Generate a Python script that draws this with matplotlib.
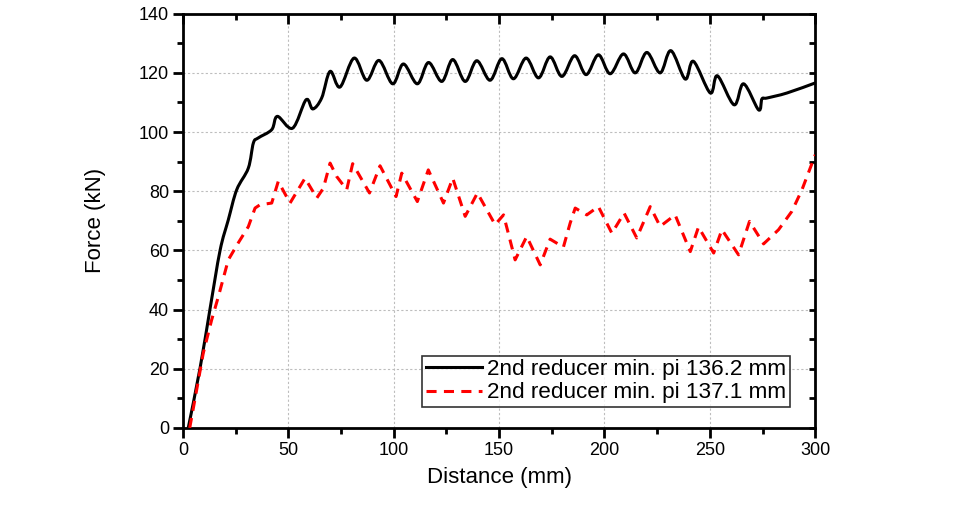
import matplotlib.pyplot as plt
import matplotlib.lines as mlines
from matplotlib.path import Path
from matplotlib.patches import PathPatch
import numpy as np

plt.rcParams['font.family'] = ['Liberation Sans', 'DejaVu Sans']

# 2nd reducer min. pi 136.2 mm (black, solid)
dist_a = [2.5, 8.1, 12.8, 17.6, 21.5, 25.5, 31.0, 33.4, 35.7, 42.1, 44.8, 52.0,
          58.4, 61.6, 65.8, 69.8, 74.5, 81.2, 87.2, 93.0, 99.5, 104.6, 111.2,
          116.5, 122.8, 128.0, 133.9, 139.4, 145.7, 151.3, 156.8, 162.8, 168.7,
          174.2, 179.8, 185.8, 191.3, 197.1, 202.7, 209.0, 214.6, 220.1, 226.4,
          231.5, 238.3, 242.2, 250.2, 253.6, 261.5, 266.0, 273.1, 274.7, 277.1,
          286.6, 300.0]
force_a = [0, 20.2, 40.1, 60.0, 70.3, 80.5, 87.8, 96.3, 98.0, 100.8, 105.3, 101.3,
           110.9, 107.8, 111.5, 120.5, 115.2, 125.0, 117.5, 124.2, 116.3, 123.0,
           116.3, 123.5, 117.1, 124.5, 117.1, 124.1, 117.5, 124.8, 118.0, 125.0,
           118.3, 125.4, 118.8, 125.8, 119.4, 126.1, 119.7, 126.4, 120.0, 126.9,
           120.0, 127.5, 117.9, 123.9, 113.2, 119.0, 109.2, 116.3, 107.5, 111.2,
           111.5, 113.2, 116.6]

# 2nd reducer min. pi 137.1 mm (red, dashed)
dist_b = [3.2, 6.5, 9.6, 13.6, 16.8, 21.5, 26.2, 31.0, 34.2, 36.5, 42.1, 45.2,
          50.8, 57.9, 63.5, 66.6, 69.8, 72.9, 77.7, 80.5, 88.5, 93.5, 101.1,
          103.8, 111.2, 116.4, 123.6, 128.0, 133.9, 139.7, 148.1, 152.1, 157.6,
          163.1, 169.5, 174.2, 180.5, 183.7, 186.1, 191.6, 197.1, 203.5, 209.3,
          215.3, 221.7, 226.4, 233.5, 240.7, 244.6, 251.8, 255.7, 263.6, 268.8,
          275.5, 282.6, 288.9, 293.7, 300.0]
force_b = [0, 12.9, 25.2, 36.5, 44.4, 56.8, 62.5, 68.0, 74.3, 75.4, 76.0, 83.3,
           76.0, 84.4, 77.7, 81.0, 89.5, 85.0, 80.5, 89.3, 79.4, 88.6, 78.2,
           86.1, 76.5, 87.2, 76.0, 84.4, 71.5, 79.4, 68.7, 72.0, 56.8, 64.7,
           55.1, 63.8, 61.1, 69.2, 74.3, 72.0, 74.8, 65.8, 72.6, 64.2, 74.8,
           68.1, 72.0, 59.6, 67.9, 59.1, 67.0, 58.5, 69.8, 62.2, 67.0, 73.2,
           80.5, 92.3]

labels = ['2nd reducer min. pi 136.2 mm', '2nd reducer min. pi 137.1 mm']


def smooth_path(xs, ys):
    # connect the points with a Catmull-Rom style bezier (like a spline connect)
    p = np.column_stack([xs, ys]).astype(float)
    verts = [p[0]]
    codes = [Path.MOVETO]
    n = len(p)
    for i in range(n - 1):
        p0 = p[max(i - 1, 0)]
        p1 = p[i]
        p2 = p[i + 1]
        p3 = p[min(i + 2, n - 1)]
        verts += [p1 + (p2 - p0) / 6, p2 - (p3 - p1) / 6, p2]
        codes += [Path.CURVE4] * 3
    return Path(verts, codes)


fig = plt.figure(figsize=(9.58, 5.07), dpi=100)
ax = fig.add_axes([0.191, 0.156, 0.660, 0.817])

ax.add_patch(PathPatch(smooth_path(dist_a, force_a), fill=False,
                       edgecolor='black', lw=2.2, joinstyle='round',
                       capstyle='butt', zorder=3))
ax.plot(dist_b, force_b, color='#ff0000', lw=2.2, linestyle=(0, (3.3, 2.4)),
        dash_capstyle='butt', zorder=3)

ax.set_xlim(0, 300)
ax.set_ylim(0, 140)
ax.set_xticks(np.arange(0, 301, 50))
ax.set_xticks(np.arange(25, 300, 50), minor=True)
ax.set_yticks(np.arange(0, 141, 20))
ax.set_yticks(np.arange(10, 140, 20), minor=True)

ax.grid(True, which='major', color='#bdbdbd', linestyle=(0, (2, 2)), lw=0.8)
ax.set_axisbelow(True)

for s in ax.spines.values():
    s.set_linewidth(2)

ax.tick_params(which='both', direction='out', width=2, labelsize=13,
               top=True, right=True, pad=3)
ax.tick_params(which='major', length=7)
ax.tick_params(which='minor', length=4)

# top and right ticks point inward
for t in ax.xaxis.get_major_ticks() + ax.xaxis.get_minor_ticks():
    t.tick2line.set_marker(mlines.TICKDOWN)
for t in ax.yaxis.get_major_ticks() + ax.yaxis.get_minor_ticks():
    t.tick2line.set_marker(mlines.TICKLEFT)
    t.tick2line.set_markersize(4)

ax.set_xlabel('Distance (mm)', fontsize=16, labelpad=6)
ax.set_ylabel('Force (kN)', fontsize=16, labelpad=24)

handles = [mlines.Line2D([], [], color='black', lw=2.2),
           mlines.Line2D([], [], color='#ff0000', lw=2.2,
                         linestyle=(0, (3.3, 2.4)), dash_capstyle='butt')]
leg = ax.legend(handles, labels, loc='lower right',
                bbox_to_anchor=(0.960, 0.051), borderaxespad=0, fontsize=16.2,
                frameon=True, fancybox=False, edgecolor='black',
                handlelength=2.5, handletextpad=0.25, labelspacing=0.1,
                borderpad=0.15)
leg.get_frame().set_linewidth(1.2)

plt.savefig('out.png', dpi=100)
